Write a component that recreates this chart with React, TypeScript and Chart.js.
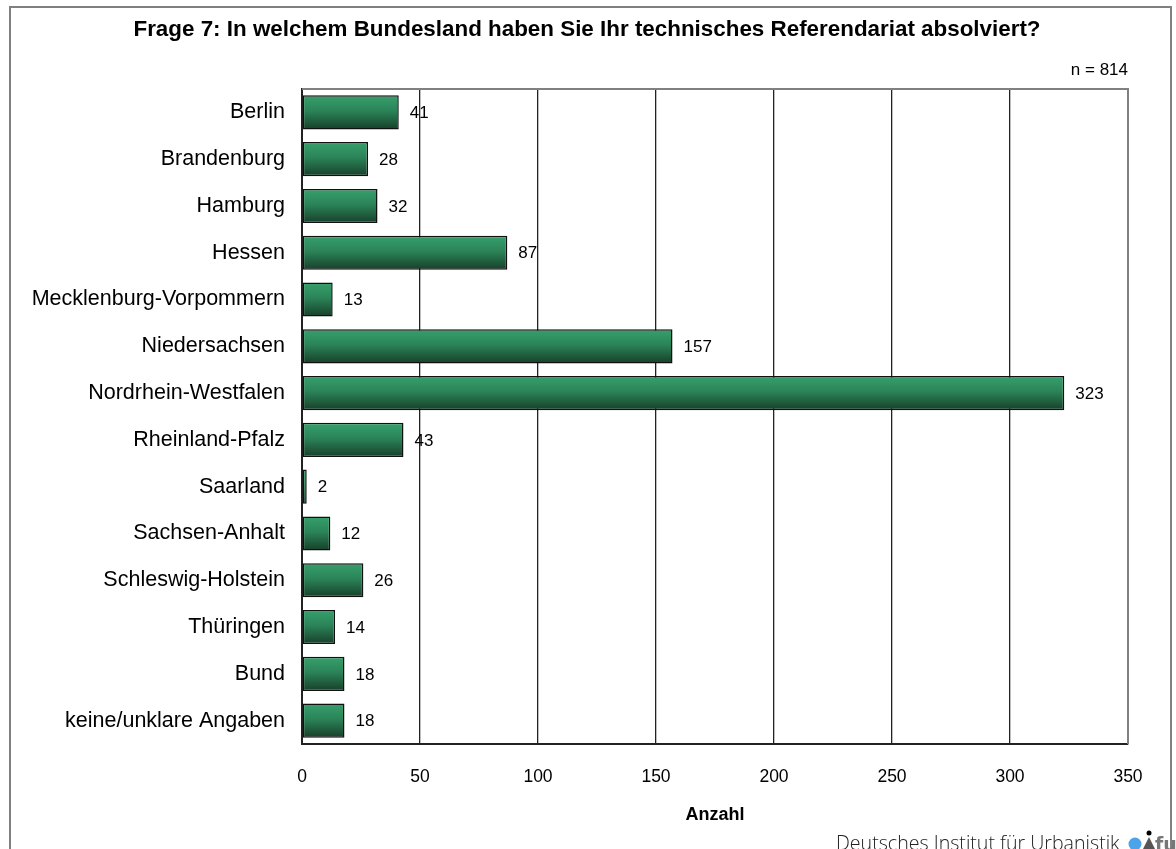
import React, { useEffect, useRef } from "react";
import { Chart, registerables } from "chart.js";

Chart.register(...registerables);

const categories = [
  "Berlin",
  "Brandenburg",
  "Hamburg",
  "Hessen",
  "Mecklenburg-Vorpommern",
  "Niedersachsen",
  "Nordrhein-Westfalen",
  "Rheinland-Pfalz",
  "Saarland",
  "Sachsen-Anhalt",
  "Schleswig-Holstein",
  "Thüringen",
  "Bund",
  "keine/unklare Angaben",
];
const values = [41, 28, 32, 87, 13, 157, 323, 43, 2, 12, 26, 14, 18, 18];
const xTicks = [0, 50, 100, 150, 200, 250, 300, 350];
const titleText = "Frage 7: In welchem Bundesland haben Sie Ihr technisches Referendariat absolviert?";
const nText = "n = 814";
const axisTitle = "Anzahl";
const footerText = "Deutsches Institut für Urbanistik";

const FONT = "'Liberation Sans', Arial, Helvetica, sans-serif";

export default function App() {
  const ref = useRef<HTMLCanvasElement | null>(null);
  useEffect(() => {
    const canvas = ref.current;
    if (!canvas) return;

    const decor = {
      id: "decor",
      beforeDraw(chart: any) {
        const c = chart.ctx;
        c.save();
        c.fillStyle = "#ffffff";
        c.fillRect(0, 0, chart.width, chart.height);
        c.strokeStyle = "#808080";
        c.lineWidth = 2;
        c.strokeRect(10, 7, 1161, 900);
        c.restore();
      },
      afterDatasetsDraw(chart: any) {
        const c = chart.ctx;
        const meta = chart.getDatasetMeta(0);
        c.save();
        c.fillStyle = "#000";
        c.font = `17px ${FONT}`;
        c.textBaseline = "middle";
        c.textAlign = "left";
        meta.data.forEach((el: any, i: number) => {
          c.fillText(String(values[i]), el.x + 11, el.y + 1);
        });
        c.restore();
      },
      afterDraw(chart: any) {
        const c = chart.ctx;
        const a = chart.chartArea;
        c.save();
        // gray top and right frame of plot area
        c.strokeStyle = "#808080";
        c.lineWidth = 2;
        c.beginPath();
        c.moveTo(a.left, a.top);
        c.lineTo(a.right, a.top);
        c.lineTo(a.right, a.bottom);
        c.stroke();
        // title
        c.fillStyle = "#000";
        c.textBaseline = "middle";
        c.textAlign = "center";
        c.font = `bold 22.4px ${FONT}`;
        c.fillText(titleText, 587, 30);
        c.font = `17px ${FONT}`;
        c.textAlign = "right";
        c.fillText(nText, a.right, 70);
        c.textAlign = "center";
        c.font = `bold 18px ${FONT}`;
        c.fillText(axisTitle, (a.left + a.right) / 2, 815);
        // footer
        c.textAlign = "left";
        c.textBaseline = "alphabetic";
        c.fillStyle = "#222";
        c.font = `300 19.6px 'Open Sans', 'DejaVu Sans', sans-serif`;
        c.fillText(footerText, 836, 850);
        // logo
        c.fillStyle = "#4da3ea";
        c.beginPath();
        c.arc(1135, 844, 6.5, 0, Math.PI * 2);
        c.fill();
        c.fillStyle = "#000";
        c.beginPath();
        c.arc(1149, 833, 2.5, 0, Math.PI * 2);
        c.fill();
        c.fillStyle = "#555";
        c.beginPath();
        c.moveTo(1143, 849);
        c.lineTo(1149, 837);
        c.lineTo(1155, 849);
        c.closePath();
        c.fill();
        c.font = `bold 19px 'DejaVu Sans', sans-serif`;
        c.fillStyle = "#777";
        c.fillText("fu", 1155, 851);
        c.restore();
      },
    };

    const chart = new Chart(canvas, {
      type: "bar",
      data: {
        labels: categories,
        datasets: [
          {
            data: values,
            backgroundColor: (ctx: any) => {
              const ch = ctx.chart;
              const ys = ch.scales && ch.scales.y;
              if (!ys || !ch.chartArea || ctx.dataIndex === undefined) return "#2a7a52";
              const yc = ys.getPixelForValue(ctx.dataIndex);
              const g = ch.ctx.createLinearGradient(0, yc - 17, 0, yc + 17);
              g.addColorStop(0, "#36a06c");
              g.addColorStop(0.45, "#2b8458");
              g.addColorStop(1, "#173f2a");
              return g;
            },
            borderColor: "#111",
            borderWidth: 1.5,
            borderSkipped: false,
            barPercentage: 0.73,
            categoryPercentage: 1,
          },
        ],
      },
      options: {
        indexAxis: "y",
        responsive: false,
        animation: false,
        maintainAspectRatio: false,
        layout: { padding: { left: 0, top: 89, right: 48, bottom: 0 } },
        plugins: {
          legend: { display: false },
          title: { display: false },
          tooltip: { enabled: false },
        },
        scales: {
          x: {
            type: "linear",
            min: 0,
            max: 350,
            afterFit: (s: any) => {
              s.height = 105;
            },
            afterBuildTicks: (s: any) => {
              s.ticks = xTicks.map((v) => ({ value: v }));
            },
            ticks: {
              stepSize: 50,
              color: "#000",
              font: { family: FONT, size: 17.5 },
              padding: 23,
              maxRotation: 0,
            },
            grid: {
              drawTicks: false,
              color: (ctx: any) => (ctx.tick && ctx.tick.value === 350 ? "#808080" : "#222"),
              lineWidth: (ctx: any) => (ctx.tick && ctx.tick.value === 350 ? 2 : 1.3),
            },
            border: { display: true, color: "#222", width: 2 },
          },
          y: {
            type: "category",
            afterFit: (s: any) => {
              s.width = 302;
            },
            ticks: {
              color: "#000",
              font: { family: FONT, size: 21.5 },
              padding: 17,
            },
            grid: { display: false, drawTicks: false },
            border: { display: true, color: "#222", width: 2 },
          },
        },
      },
      plugins: [decor],
    });
    return () => chart.destroy();
  }, []);

  return (
    <div style={{ position: "fixed", left: 0, top: 0, width: 1176, height: 849, background: "#fff" }}>
      <canvas ref={ref} width={1176} height={849} style={{ display: "block", width: 1176, height: 849 }} />
    </div>
  );
}
